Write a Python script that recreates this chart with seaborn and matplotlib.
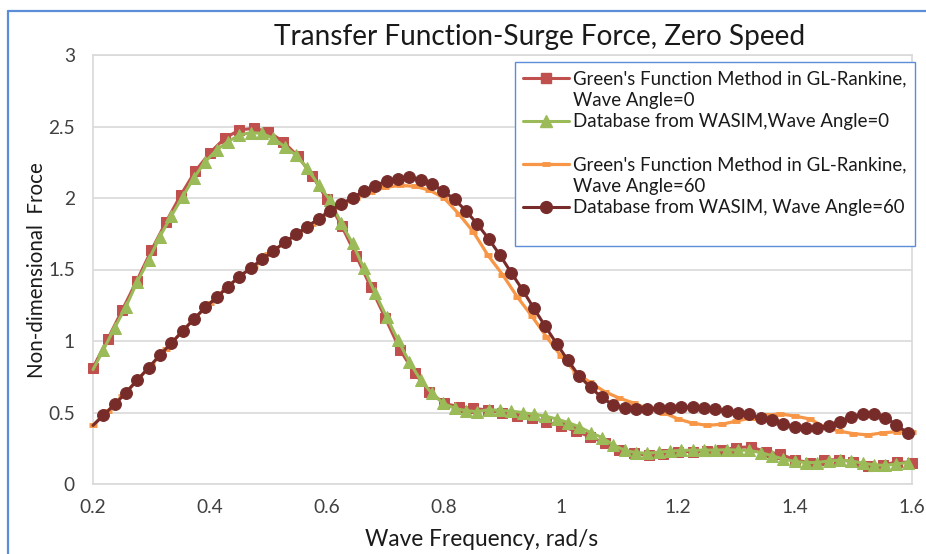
import numpy as np
import pandas as pd
import matplotlib
matplotlib.use("Agg")
import matplotlib.pyplot as plt
import seaborn as sns
from matplotlib.lines import Line2D
from matplotlib.ticker import FuncFormatter

sns.set_style("white")
plt.rcParams['font.family'] = ['Lato', 'DejaVu Sans']

# ---- data -------------------------------------------------------------
# Green's Function Method (GL-Rankine) frequency grid
gl_freq = np.round(0.2 + 0.025 * np.arange(57), 3)
gl_angle0 = [0.813, 1.012, 1.217, 1.422, 1.636, 1.834, 2.021, 2.189, 2.317, 2.417,
             2.476, 2.487, 2.464, 2.394, 2.294, 2.154, 1.991, 1.805, 1.594, 1.375,
             1.158, 0.937, 0.774, 0.646, 0.564, 0.541, 0.529, 0.517, 0.497, 0.475,
             0.46, 0.435, 0.405, 0.37, 0.33, 0.285, 0.238, 0.215, 0.2, 0.21,
             0.226, 0.226, 0.228, 0.238, 0.255, 0.26, 0.225, 0.21, 0.168, 0.15,
             0.168, 0.17, 0.155, 0.126, 0.133, 0.155, 0.15]
gl_angle60 = [0.41, 0.51, 0.612, 0.724, 0.835, 0.947, 1.056, 1.164, 1.264, 1.358,
              1.45, 1.526, 1.605, 1.68, 1.75, 1.82, 1.89, 1.95, 2.0, 2.045,
              2.075, 2.088, 2.082, 2.055, 2.0, 1.89, 1.764, 1.60, 1.465, 1.31,
              1.175, 1.03, 0.895, 0.78, 0.71, 0.645, 0.6, 0.565, 0.525, 0.5,
              0.455, 0.425, 0.41, 0.418, 0.44, 0.462, 0.48, 0.49, 0.475, 0.455,
              0.40, 0.37, 0.352, 0.343, 0.358, 0.366, 0.366]

# WASIM database frequency grid
wasim_freq = [0.2] + list(np.round(0.2176 + 0.01937 * np.arange(72), 4))
wasim_angle0 = [0.80,
                0.937, 1.093, 1.24, 1.415, 1.566, 1.73, 1.874, 2.009, 2.142, 2.254,
                2.336, 2.394, 2.44, 2.457, 2.452, 2.417, 2.359, 2.30, 2.208, 2.091,
                1.986, 1.823, 1.683, 1.508, 1.333, 1.17, 1.007, 0.855, 0.727, 0.634,
                0.564, 0.529, 0.513, 0.506, 0.52, 0.515, 0.51, 0.50, 0.487, 0.475,
                0.455, 0.43, 0.40, 0.36, 0.325, 0.275, 0.235, 0.22, 0.215, 0.222,
                0.23, 0.235, 0.237, 0.237, 0.237, 0.24, 0.237, 0.235, 0.22, 0.198,
                0.175, 0.158, 0.15, 0.15, 0.161, 0.168, 0.161, 0.146, 0.134, 0.13,
                0.14, 0.15]
wasim_angle60 = [0.41,
                 0.48, 0.557, 0.639, 0.727, 0.813, 0.902, 0.984, 1.07, 1.154, 1.235,
                 1.305, 1.38, 1.45, 1.508, 1.571, 1.629, 1.69, 1.746, 1.80, 1.855,
                 1.91, 1.957, 2.003, 2.047, 2.087, 2.119, 2.135, 2.145, 2.126, 2.097,
                 2.049, 1.99, 1.911, 1.818, 1.715, 1.601, 1.478, 1.357, 1.228, 1.103,
                 0.982, 0.865, 0.755, 0.675, 0.605, 0.552, 0.529, 0.522, 0.524, 0.531,
                 0.534, 0.541, 0.536, 0.534, 0.524, 0.510, 0.499, 0.487, 0.459, 0.448,
                 0.42, 0.401, 0.389, 0.389, 0.406, 0.436, 0.471, 0.487, 0.487, 0.464,
                 0.413, 0.355]

series_labels = ["Green's Function Method in GL-Rankine,\nWave Angle=0",
                 "Database from WASIM,Wave Angle=0",
                 "Green's Function Method in GL-Rankine,\nWave Angle=60",
                 "Database from WASIM, Wave Angle=60"]
x_ticks = [0.2, 0.4, 0.6, 0.8, 1.0, 1.2, 1.4, 1.6]
y_ticks = [0, 0.5, 1, 1.5, 2, 2.5, 3]

RED = '#C0504D'
GREEN = '#9BBB59'
ORANGE = '#F79646'
MAROON = '#772C2A'
BLUE = '#5B8ED6'
TXT = '#404040'

# ---- figure -------------------------------------------------------------
W, H = 926, 554
fig = plt.figure(figsize=(W / 100, H / 100), dpi=100)
fig.patch.set_facecolor('white')
ax = fig.add_axes([93 / W, (H - 484) / H, 819 / W, 429 / H])

sns.lineplot(x=gl_freq, y=gl_angle0, ax=ax, color=RED, lw=2.2, marker='s',
             markersize=7.5, markeredgecolor=RED, sort=False, clip_on=False, zorder=3)
sns.lineplot(x=wasim_freq, y=wasim_angle0, ax=ax, color=GREEN, lw=2.2, marker='^',
             markersize=8.5, markeredgecolor=GREEN, markevery=slice(1, None),
             sort=False, clip_on=False, zorder=4)
sns.lineplot(x=gl_freq, y=gl_angle60, ax=ax, color=ORANGE, lw=2.3, marker='_',
             markersize=6, markeredgewidth=3.5, markeredgecolor=ORANGE,
             sort=False, clip_on=False, zorder=5)
sns.lineplot(x=wasim_freq, y=wasim_angle60, ax=ax, color=MAROON, lw=2.2, marker='o',
             markersize=8.5, markeredgecolor=MAROON, markevery=slice(1, None),
             sort=False, clip_on=False, zorder=6)

ax.set_xlim(0.2, 1.6)
ax.set_ylim(0, 3)
ax.set_xticks(x_ticks)
ax.set_yticks(y_ticks)
fmt = FuncFormatter(lambda v, p: ('%g' % round(v, 2)))
ax.xaxis.set_major_formatter(fmt)
ax.yaxis.set_major_formatter(fmt)
ax.tick_params(axis='both', length=0, labelsize=13.8, labelcolor=TXT)
ax.tick_params(axis='y', pad=13)
ax.tick_params(axis='x', pad=11)
ax.grid(axis='y', color='#D9D9D9', lw=1.2)
ax.grid(axis='x', visible=False)
ax.set_axisbelow(True)
for s in ax.spines.values():
    s.set_visible(True)
    s.set_color('#D9D9D9')
    s.set_linewidth(1.2)

ax.set_xlabel('Wave Frequency, rad/s', fontsize=16.3, color='#1a1a1a', va='center')
ax.xaxis.set_label_coords((482 - 93) / 819, (484 - 540) / 429)
ax.set_ylabel('Non-dimensional  Froce', fontsize=14.8, color='#1a1a1a', va='center')
ax.yaxis.set_label_coords((37 - 93) / 819, (484 - 270) / 429)

fig.text(540 / W, 1 - 37 / H, 'Transfer Function-Surge Force, Zero Speed',
         ha='center', va='center', fontsize=20.2, color='#1a1a1a')

# legend (Excel style: marker line aligned with first text line)
blank = Line2D([], [], color='none')
handles = [
    Line2D([], [], color=RED, lw=2.2, marker='s', markersize=7.5),
    blank,
    Line2D([], [], color=GREEN, lw=2.2, marker='^', markersize=8.5),
    blank,
    Line2D([], [], color=ORANGE, lw=2.3, marker='_', markersize=6, markeredgewidth=3.5),
    blank,
    Line2D([], [], color=MAROON, lw=2.2, marker='o', markersize=8.5),
    blank,
]
labels = [series_labels[0].split('\n')[0], series_labels[0].split('\n')[1],
          series_labels[1], '',
          series_labels[2].split('\n')[0], series_labels[2].split('\n')[1],
          series_labels[3], '']
leg = ax.legend(handles, labels, loc='upper left',
                bbox_to_anchor=(515 / W, 1 - 62 / H), bbox_transform=fig.transFigure,
                frameon=True, fancybox=False, framealpha=1, edgecolor=BLUE,
                fontsize=13.4, handlelength=2.47, handletextpad=0.2,
                labelspacing=0.24, borderpad=0.45, borderaxespad=0)
leg.get_frame().set_linewidth(1.0)
for t in leg.get_texts():
    t.set_color('#1a1a1a')

# chart-area border (blue, partly cropped in the original)
fig.add_artist(Line2D([8 / W, 8 / W], [0, 1 - 11 / H], color=BLUE, lw=1.6,
                      transform=fig.transFigure))
fig.add_artist(Line2D([8 / W, 1], [1 - 11 / H, 1 - 11 / H], color=BLUE, lw=1.6,
                      transform=fig.transFigure))

fig.savefig('out.png', dpi=100, facecolor='white')
